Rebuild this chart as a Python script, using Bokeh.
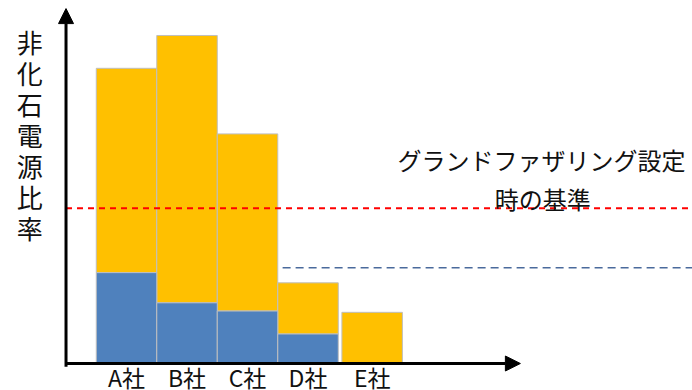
from bokeh.plotting import figure
from bokeh.models import Range1d, Arrow, NormalHead, ColumnDataSource
from bokeh.core.properties import value
from bokeh.embed import file_html
from bokeh.resources import INLINE

# Non-fossil power ratio per company (arbitrary units, no scale shown)
companies = ["A社", "B社", "C社", "D社", "E社"]
total_ratio = [90.0, 100.0, 70.0, 24.6, 15.6]   # full bar height
base_ratio = [27.7, 18.5, 16.0, 9.0, 0.0]       # lower (blue) part
grandfather_ref = 47.3                           # red dashed reference
lower_ref = 29.2                                 # blue dashed reference

y_label = "非化石電源比率"
note_lines = ["グランドファザリング設定", "時の基準"]

FONT = value("Noto Sans CJK JP")
ORANGE = "#FFC000"
BLUE = "#4F81BD"
EDGE = "#BFBFBF"
INK = "#111111"

# bar centres: A-D adjoin each other, E stands slightly apart
bar_x = [0, 1, 2, 3, 4.06]

X0, X1 = -2.083, 9.355
Y0, Y1 = -8.23, 110.67

p = figure(width=692, height=390, output_backend="svg", toolbar_location=None,
           x_range=Range1d(X0, X1), y_range=Range1d(Y0, Y1),
           x_axis_type=None, y_axis_type=None, min_border=0,
           outline_line_color=None, background_fill_color="white",
           border_fill_color="white")

src = ColumnDataSource(dict(x=bar_x, total=total_ratio, base=base_ratio, name=companies))
low = ColumnDataSource(dict(
    x=[x for x, b in zip(bar_x, base_ratio) if b > 0],
    base=[b for b in base_ratio if b > 0]))

# stacked bars: orange upper part, blue lower part
p.vbar(x="x", bottom="base", top="total", width=1.0, source=src,
       fill_color=ORANGE, line_color=EDGE, line_width=1)
p.vbar(x="x", bottom=0, top="base", width=1.0, source=low,
       fill_color=BLUE, line_color=EDGE, line_width=1)

# reference lines
p.segment(x0=[-1.0], y0=[grandfather_ref], x1=[X1], y1=[grandfather_ref],
          line_color="#FF0000", line_width=2, line_dash="6 5")
p.segment(x0=[2.58], y0=[lower_ref], x1=[X1], y1=[lower_ref],
          line_color="#4A6A9C", line_width=1.5, line_dash="8 5")

# axes drawn as arrows
head = dict(size=15, fill_color="black", line_color="black")
p.add_layout(Arrow(end=NormalHead(**head),
                   x_start=-1.0, y_start=-1.0, x_end=-1.0, y_end=108.2,
                   line_color="black", line_width=3))
p.add_layout(Arrow(end=NormalHead(**head),
                   x_start=-1.0, y_start=0, x_end=6.51, y_end=0,
                   line_color="black", line_width=3))

# category labels under the bars
p.text(x="x", y=-4.0, text="name", source=src, text_font=FONT,
       text_font_size="23px", text_align="center", text_baseline="middle",
       text_color=INK)

# vertical axis title, characters stacked top to bottom
step = 9.45
chars = list(y_label)
p.text(x=[-1.60] * len(chars), y=[98.3 - step * i for i in range(len(chars))],
       text=chars, text_font=FONT, text_font_size="26px",
       text_align="center", text_baseline="middle", text_color=INK)

# note next to the red reference line
p.text(x=[6.86, 6.88], y=[62.2, 50.2], text=note_lines, text_font=FONT,
       text_font_size="24px", text_align="center", text_baseline="middle",
       text_color=INK)

open("out.html", "w").write(file_html(p, INLINE))
